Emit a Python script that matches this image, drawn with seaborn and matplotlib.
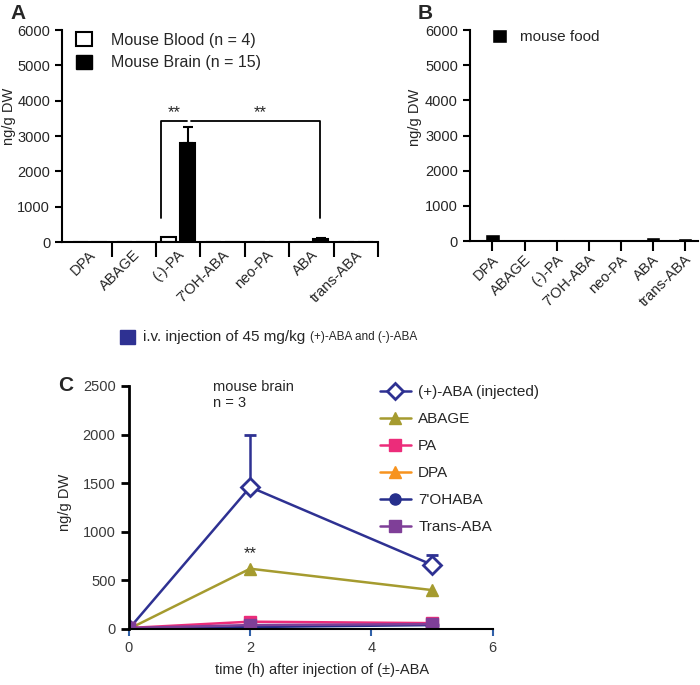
import numpy as np
import pandas as pd
import matplotlib
matplotlib.use("Agg")
import matplotlib.pyplot as plt
from matplotlib.patches import Patch
from matplotlib.lines import Line2D
from matplotlib.transforms import ScaledTranslation
import seaborn as sns

# ---- data ----
compounds = ["DPA", "ABAGE", "(-)-PA", "7'OH-ABA", "neo-PA", "ABA", "trans-ABA"]
blood = [0, 0, 150, 0, 0, 0, 0]
brain = [0, 0, 2800, 0, 0, 80, 0]
brain_err = [0, 0, 450, 0, 0, 40, 0]
food = [200, 25, 55, 25, 0, 115, 95]

times = [0, 2, 5]
aba_inj = [0, 1460, 660]
aba_inj_err = [0, 540, 100]
abage = [0, 620, 400]
pa = [10, 75, 60]
dpa = [0, 0, 0]
ohaba = [0, 20, 40]
trans_aba = [10, 40, 50]

series_names = ["(+)-ABA (injected)", "ABAGE", "PA", "DPA", "7'OHABA", "Trans-ABA"]
series_vals = [aba_inj, abage, pa, dpa, ohaba, trans_aba]
series_colors = ["#2e3192", "#a59b2f", "#ec2c7a", "#f7931e", "#262f8c", "#7f3f98"]
series_markers = ["D", "^", "s", "^", "o", "s"]

sns.set_style("ticks")
plt.rcParams["font.family"] = ["Liberation Sans", "DejaVu Sans"]
plt.rcParams["font.size"] = 10.5

fig = plt.figure(figsize=(7, 6.85), dpi=100)
shift = ScaledTranslation(9 / 100, 0, fig.dpi_scale_trans)

# ---------------- panel A ----------------
axA = fig.add_axes([0.0886, 0.6467, 0.4514, 0.3095])
df_a = pd.DataFrame({
    "compound": compounds * 2,
    "value": blood + brain,
    "tissue": ["Mouse Blood (n = 4)"] * 7 + ["Mouse Brain (n = 15)"] * 7,
})
sns.barplot(data=df_a, x="compound", y="value", hue="tissue",
            palette=["white", "black"], edgecolor="black", linewidth=1.5,
            width=0.85, gap=0.2, legend=False, ax=axA)
for i, bar in enumerate(axA.containers[1]):
    if brain_err[i] > 0:
        axA.errorbar(bar.get_x() + bar.get_width() / 2, brain[i],
                     yerr=[[0], [brain_err[i]]], color="black", lw=1.5,
                     capsize=3.6, capthick=1.5)

axA.set_xlim(-0.62, 6.5)
axA.set_ylim(0, 6000)
axA.set_yticks(range(0, 6001, 1000))
axA.set_xticks(np.arange(0.5, 7, 1))
axA.set_xticklabels([])
axA.set_xticks(range(7), minor=True)
axA.set_xticklabels(compounds, minor=True, rotation=45, ha="right")
axA.tick_params(axis="x", which="major", length=11, width=1.5, color="black")
axA.tick_params(axis="x", which="minor", length=0, pad=4)
axA.tick_params(axis="y", length=5, width=1.5, color="black")
for lab in axA.xaxis.get_minorticklabels():
    lab.set_transform(lab.get_transform() + shift)
axA.set_xlabel("")
axA.set_ylabel("ng/g DW")
axA.yaxis.set_label_coords(-0.146, 0.594)
for s in ["left", "bottom"]:
    axA.spines[s].set_linewidth(1.5)
    axA.spines[s].set_color("black")
sns.despine(ax=axA)

# significance brackets
axA.plot([1.6, 1.6, 2.19], [690, 3430, 3430], color="black", lw=1.3)
axA.plot([2.28, 5.2, 5.2], [3430, 3430, 690], color="black", lw=1.3)
axA.text(1.9, 3460, "**", ha="center", va="bottom", fontsize=12)
axA.text(3.84, 3460, "**", ha="center", va="bottom", fontsize=12)

handles_a = [Patch(facecolor="white", edgecolor="black", lw=1.5),
             Patch(facecolor="black", edgecolor="black")]
axA.legend(handles_a, ["Mouse Blood (n = 4)", "Mouse Brain (n = 15)"],
           loc="upper left", bbox_to_anchor=(76 / 700, 1 - 32 / 685),
           bbox_transform=fig.transFigure, frameon=False, borderpad=0,
           borderaxespad=0, handlelength=1.0, handleheight=1.0,
           handletextpad=1.2, labelspacing=0.45, fontsize=11.5)

# ---------------- panel B ----------------
axB = fig.add_axes([0.671, 0.648, 0.326, 0.308])
sns.barplot(x=compounds, y=food, color="black", width=0.46, ax=axB)
axB.set_xlim(-0.71, 6.4)
axB.set_ylim(0, 6000)
axB.set_yticks(range(0, 6001, 1000))
axB.set_xticks(range(7))
axB.set_xticklabels(compounds, rotation=45, ha="right")
axB.tick_params(axis="x", length=7, width=1.5, color="black", pad=1)
axB.tick_params(axis="y", length=5, width=1.5, color="black")
for lab in axB.get_xticklabels():
    lab.set_transform(lab.get_transform() + shift)
axB.set_ylabel("ng/g DW")
axB.yaxis.set_label_coords(-0.209, 0.588)
for s in ["left", "bottom"]:
    axB.spines[s].set_linewidth(1.5)
    axB.spines[s].set_color("black")
sns.despine(ax=axB)
axB.legend([Patch(facecolor="black")], ["mouse food"], loc="upper left",
           bbox_to_anchor=(492 / 700, 1 - 29 / 685), bbox_transform=fig.transFigure,
           frameon=False, borderpad=0, borderaxespad=0, handlelength=1.0,
           handleheight=1.0, handletextpad=0.8, fontsize=11)

# ---------------- injection note ----------------
fig.add_artist(plt.Rectangle((120 / 700, 1 - 344 / 685), 15 / 700, 14 / 685,
                             transform=fig.transFigure, color="#2e3192"))
t1 = fig.text(143 / 700, 1 - 337 / 685, "i.v. injection of 45 mg/kg ",
              va="center", ha="left", fontsize=11)
fig.canvas.draw()
bb = t1.get_window_extent()
fig.text(bb.x1 / 700, 1 - 337 / 685, "(+)-ABA and (-)-ABA", va="center",
         ha="left", fontsize=8.5)

# ---------------- panel C ----------------
axC = fig.add_axes([0.184, 0.0818, 0.52, 0.3547])
for name, vals, col, mk in zip(series_names, series_vals, series_colors, series_markers):
    mfc = "white" if name.startswith("(+)") else col
    sns.lineplot(x=times, y=vals, color=col, marker=mk, markersize=9 if mk != "s" else 8,
                 markerfacecolor=mfc, markeredgecolor=col, markeredgewidth=2 if mfc == "white" else 1,
                 lw=1.8, ax=axC, label=name, legend=False)
axC.errorbar(times, aba_inj, yerr=[[0] * 3, aba_inj_err], fmt="none",
             ecolor="#2e3192", elinewidth=1.8, capsize=4, capthick=2, zorder=1)
axC.text(2, 700, "**", ha="center", va="bottom", fontsize=12)
axC.text(0.23, 1.025, "mouse brain\nn = 3", transform=axC.transAxes, va="top",
         ha="left", fontsize=10.5, linespacing=1.15)

axC.set_xlim(0, 6)
axC.set_ylim(0, 2500)
axC.set_xticks([0, 2, 4, 6])
axC.set_yticks(range(0, 2501, 500))
axC.tick_params(axis="x", length=5, width=1.5, color="#3060a8", labelcolor="#3a3a3a")
axC.tick_params(axis="y", length=6, width=2, color="black", labelcolor="#3a3a3a")
axC.spines["left"].set_linewidth(2)
axC.spines["bottom"].set_linewidth(1.5)
for s in ["left", "bottom"]:
    axC.spines[s].set_color("black")
sns.despine(ax=axC)
axC.set_xlabel("time (h) after injection of (±)-ABA")
axC.xaxis.set_label_coords(0.53, -0.14)
axC.set_ylabel("ng/g DW")
axC.yaxis.set_label_coords(-0.157, 0.523)

handles_c = []
for name, col, mk in zip(series_names, series_colors, series_markers):
    mfc = "white" if name.startswith("(+)") else col
    handles_c.append(Line2D([], [], color=col, marker=mk, lw=1.8, markersize=8,
                            markerfacecolor=mfc, markeredgecolor=col,
                            markeredgewidth=2 if mfc == "white" else 1))
axC.legend(handles_c, series_names, loc="upper left",
           bbox_to_anchor=(380 / 700, 1 - 385 / 685), bbox_transform=fig.transFigure,
           frameon=False, borderpad=0, borderaxespad=0, handlelength=2.0,
           handletextpad=0.5, labelspacing=0.85, fontsize=11)

# panel letters
fig.text(10 / 700, 1 - 4 / 685, "A", fontsize=15, fontweight="bold", va="top")
fig.text(418 / 700, 1 - 4 / 685, "B", fontsize=15, fontweight="bold", va="top")
fig.text(58 / 700, 1 - 376 / 685, "C", fontsize=15, fontweight="bold", va="top")

fig.savefig("out.png", dpi=100)
